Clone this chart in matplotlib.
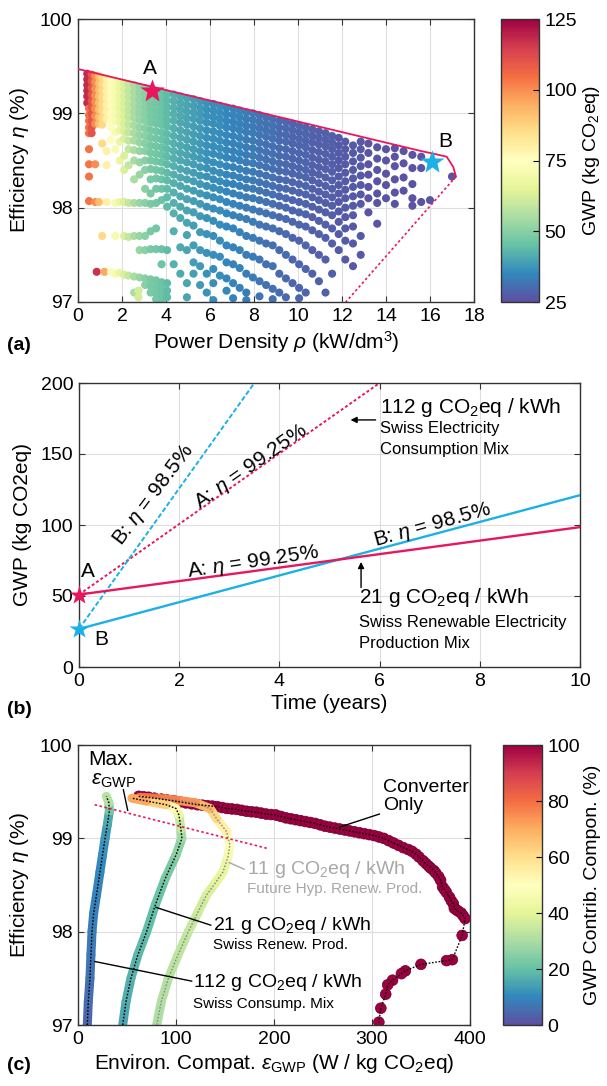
import numpy as np
import matplotlib
matplotlib.use('Agg')
import matplotlib.pyplot as plt
from matplotlib.collections import LineCollection
from matplotlib.colors import Normalize
from matplotlib.cm import ScalarMappable

# ---------------- data ----------------
# (a) design space: one column of designs per power density value
cloud_x = [0.42, 0.5, 0.62, 0.78, 0.85, 0.95, 1.1, 1.2, 1.3, 1.5, 1.7, 1.9, 2.1, 2.3, 2.55, 2.75,
           2.8, 3.05, 3.3, 3.55, 3.8, 4.05, 4.35, 4.65, 4.95, 5.25, 5.55, 5.85, 6.15, 6.45, 6.75,
           7.05, 7.35, 7.65, 7.95, 8.25, 8.55, 8.85, 9.15, 9.45, 9.75, 10.05, 10.35, 10.65, 10.95,
           11.25, 11.55, 11.85, 12.15, 12.5, 12.85, 13.2, 13.6, 14.0, 14.4, 14.8, 15.2, 15.6, 16.0, 17.0]
cloud_gwp = [118, 104, 110, 100, 117, 92, 86, 96, 80, 76, 71, 67, 63, 59, 55, 62,
             52, 50, 48, 47, 46, 44, 42, 41, 40, 39, 38, 37, 36, 36, 35,
             34, 34, 33, 33, 32, 31, 31, 30, 30, 29, 29, 29, 28, 28,
             28, 28, 27, 27, 27, 27, 26, 26, 26, 26, 26, 26, 26, 26, 26]
cloud_eta = [
    [99.42, 99.36, 99.30, 99.24, 99.18, 99.11],
    [99.05, 98.98, 98.92, 98.85, 98.79, 98.62, 98.46, 98.33, 98.07],
    [99.41, 99.34, 99.27, 99.20, 99.13, 99.06, 98.99, 98.92, 98.85, 98.79],
    [99.40, 99.33, 99.26, 99.19, 99.12, 99.05, 98.97, 98.89, 98.46, 98.06],
    [97.32],
    [99.39, 99.32, 99.25, 99.18, 99.11, 99.04, 98.96, 98.89, 98.06],
    [99.38, 99.31, 99.24, 99.17, 99.10, 99.03, 98.95, 98.88, 98.68, 97.70],
    [97.32],
    [99.37, 99.30, 99.23, 99.16, 99.09, 99.02, 98.94, 98.60, 98.45, 98.06],
    [99.36, 99.29, 99.22, 99.15, 99.08, 99.00, 98.92, 98.85, 98.72, 97.32],
    [99.34, 99.27, 99.20, 99.13, 99.06, 98.99, 98.92, 98.80, 98.62, 98.05, 97.70, 97.30],
    [99.33, 99.26, 99.19, 99.12, 99.05, 98.98, 98.90, 98.82, 98.70, 98.50, 98.06, 97.31],
    [99.32, 99.25, 99.18, 99.11, 99.04, 98.97, 98.89, 98.81, 98.73, 98.55, 98.40, 98.06, 97.70, 97.29],
    [99.31, 99.24, 99.17, 99.10, 99.03, 98.96, 98.88, 98.80, 98.71, 98.62, 98.45, 98.05, 97.69, 97.28],
    [99.30, 99.23, 99.16, 99.09, 99.02, 98.95, 98.87, 98.79, 98.71, 98.61, 98.50, 98.30, 98.05, 97.70, 97.27, 97.10],
    [97.05, 97.12],
    [99.28, 99.21, 99.14, 99.07, 99.00, 98.93, 98.85, 98.77, 98.69, 98.60, 98.48, 98.35, 98.05, 97.70, 97.55, 97.26],
    [99.27, 99.20, 99.13, 99.06, 98.99, 98.92, 98.84, 98.76, 98.68, 98.60, 98.50, 98.40, 98.20, 98.05, 97.70, 97.55, 97.25, 97.18],
    [99.25, 99.18, 99.11, 99.04, 98.97, 98.90, 98.82, 98.74, 98.66, 98.58, 98.50, 98.41, 98.30, 98.15, 98.04, 97.75, 97.56, 97.24, 97.17, 97.10],
    [99.24, 99.17, 99.10, 99.03, 98.96, 98.89, 98.81, 98.73, 98.65, 98.57, 98.49, 98.40, 98.31, 98.20, 98.05, 97.78, 97.56, 97.23, 97.16, 97.09, 97.03],
    [99.23, 99.16, 99.09, 99.02, 98.95, 98.88, 98.80, 98.72, 98.64, 98.56, 98.48, 98.39, 98.30, 98.20, 98.08, 97.56, 97.40, 97.21, 97.14, 97.07, 97.02],
    [99.21, 99.14, 99.07, 99.00, 98.93, 98.86, 98.78, 98.70, 98.62, 98.54, 98.46, 98.37, 98.29, 98.20, 98.11, 98.01, 97.55, 97.20, 97.12, 97.05],
    [99.20, 99.13, 99.06, 98.99, 98.92, 98.84, 98.76, 98.68, 98.60, 98.52, 98.44, 98.35, 98.26, 98.16, 98.05, 97.94, 97.75, 97.40],
    [99.18, 99.11, 99.04, 98.97, 98.90, 98.82, 98.74, 98.66, 98.58, 98.50, 98.41, 98.32, 98.23, 98.12, 98.01, 97.89, 97.58, 97.30],
    [99.16, 99.09, 99.02, 98.95, 98.88, 98.80, 98.72, 98.64, 98.56, 98.48, 98.39, 98.30, 98.20, 98.09, 97.97, 97.84, 97.71, 97.55, 97.20, 97.05],
    [99.15, 99.08, 99.01, 98.94, 98.86, 98.78, 98.70, 98.62, 98.54, 98.46, 98.37, 98.28, 98.18, 98.07, 97.95, 97.81, 97.60, 97.42, 97.30],
    [99.13, 99.06, 98.99, 98.92, 98.84, 98.76, 98.68, 98.60, 98.52, 98.43, 98.34, 98.25, 98.15, 98.04, 97.91, 97.74, 97.55, 97.38, 97.18],
    [99.11, 99.04, 98.97, 98.90, 98.82, 98.74, 98.66, 98.58, 98.50, 98.42, 98.33, 98.23, 98.13, 98.01, 97.89, 97.72, 97.52, 97.30, 97.10],
    [99.10, 99.03, 98.96, 98.89, 98.81, 98.73, 98.65, 98.57, 98.48, 98.39, 98.30, 98.21, 98.11, 97.99, 97.86, 97.70, 97.50, 97.35, 97.20, 97.02],
    [99.08, 99.01, 98.94, 98.87, 98.79, 98.71, 98.63, 98.55, 98.46, 98.37, 98.28, 98.19, 98.09, 97.97, 97.82, 97.65, 97.48, 97.28],
    [99.06, 98.99, 98.92, 98.85, 98.77, 98.69, 98.61, 98.53, 98.44, 98.35, 98.26, 98.17, 98.06, 97.94, 97.80, 97.60, 97.42, 97.25, 97.12],
    [99.05, 98.98, 98.91, 98.84, 98.76, 98.68, 98.60, 98.52, 98.43, 98.34, 98.25, 98.15, 98.04, 97.92, 97.78, 97.58, 97.40, 97.20, 97.04],
    [99.03, 98.96, 98.89, 98.82, 98.74, 98.66, 98.58, 98.50, 98.41, 98.32, 98.23, 98.13, 98.02, 97.90, 97.74, 97.55, 97.36, 97.15],
    [99.01, 98.94, 98.87, 98.80, 98.72, 98.64, 98.56, 98.48, 98.39, 98.30, 98.21, 98.11, 98.00, 97.88, 97.70, 97.50, 97.30, 97.10, 97.02],
    [99.00, 98.93, 98.86, 98.79, 98.71, 98.63, 98.55, 98.47, 98.38, 98.29, 98.20, 98.10, 97.98, 97.85, 97.68, 97.48, 97.26],
    [98.98, 98.91, 98.84, 98.77, 98.69, 98.61, 98.53, 98.45, 98.36, 98.27, 98.18, 98.08, 97.96, 97.82, 97.65, 97.45, 97.22, 97.06],
    [98.96, 98.89, 98.82, 98.75, 98.67, 98.59, 98.51, 98.43, 98.34, 98.25, 98.16, 98.06, 97.94, 97.80, 97.62, 97.40, 97.18],
    [98.94, 98.87, 98.80, 98.73, 98.65, 98.57, 98.49, 98.41, 98.32, 98.23, 98.14, 98.04, 97.92, 97.78, 97.60, 97.38, 97.14, 97.03],
    [98.92, 98.85, 98.78, 98.71, 98.63, 98.55, 98.47, 98.39, 98.30, 98.21, 98.12, 98.02, 97.90, 97.75, 97.55, 97.30, 97.10],
    [98.91, 98.84, 98.77, 98.70, 98.62, 98.54, 98.46, 98.38, 98.29, 98.20, 98.10, 98.00, 97.88, 97.72, 97.50, 97.25, 97.05],
    [98.89, 98.82, 98.75, 98.68, 98.60, 98.52, 98.44, 98.36, 98.27, 98.18, 98.08, 97.97, 97.85, 97.68, 97.45, 97.20],
    [98.87, 98.80, 98.73, 98.66, 98.58, 98.50, 98.42, 98.34, 98.25, 98.16, 98.06, 97.95, 97.82, 97.65, 97.40, 97.15, 97.04],
    [98.85, 98.78, 98.71, 98.64, 98.56, 98.48, 98.40, 98.32, 98.23, 98.14, 98.04, 97.93, 97.80, 97.60, 97.35, 97.10],
    [98.83, 98.76, 98.69, 98.61, 98.53, 98.45, 98.37, 98.29, 98.20, 98.11, 98.01, 97.90, 97.76, 97.55, 97.30],
    [98.81, 98.74, 98.67, 98.59, 98.51, 98.43, 98.35, 98.26, 98.17, 98.08, 97.98, 97.86, 97.72, 97.50, 97.22],
    [98.79, 98.72, 98.65, 98.57, 98.49, 98.41, 98.32, 98.23, 98.14, 98.05, 97.95, 97.82, 97.68, 97.45, 97.10],
    [98.76, 98.69, 98.62, 98.54, 98.46, 98.38, 98.29, 98.20, 98.11, 98.02, 97.92, 97.78, 97.62, 97.30],
    [98.74, 98.66, 98.58, 98.50, 98.42, 98.33, 98.24, 98.15, 98.06, 97.96, 97.85, 97.72, 97.55],
    [98.70, 98.62, 98.54, 98.46, 98.37, 98.28, 98.19, 98.10, 98.00, 97.90, 97.78, 97.65, 97.45],
    [98.66, 98.58, 98.49, 98.40, 98.31, 98.22, 98.12, 98.02, 97.92, 97.80, 97.62, 97.38],
    [98.70, 98.62, 98.53, 98.44, 98.34, 98.24, 98.14, 98.04, 97.70, 97.50],
    [98.68, 98.58, 98.46, 98.35, 98.22, 98.10, 97.95],
    [98.64, 98.52, 98.40, 98.28, 98.15, 98.05, 97.83],
    [98.62, 98.50, 98.36, 98.24, 98.10],
    [98.63, 98.54, 98.44, 98.30, 98.16, 98.04],
    [98.60, 98.47, 98.32, 98.18],
    [98.56, 98.42, 98.25, 98.10, 98.02],
    [98.54, 98.42, 98.06],
    [98.08],
    [98.33],
]
# pareto fronts
front_x = [0.0, 3.4, 8.8, 15.6, 16.2, 16.76, 17.06, 17.18]
front_eta = [99.47, 99.28, 98.98, 98.6, 98.57, 98.54, 98.43, 98.33]
front_dot_x = [17.18, 12.1]
front_dot_eta = [98.33, 96.98]
star_a = (3.35, 99.24)
star_b = (16.1, 98.48)

# (b) GWP over lifetime
years_21 = [0, 10]
gwp_a_21 = [51.0, 98.5]
gwp_b_21 = [26.8, 121.0]
years_a_112 = [0, 6.0]
gwp_a_112 = [51.0, 200.0]
years_b_112 = [0, 3.5]
gwp_b_112 = [26.8, 200.0]

# (c) environmental compatibility
c112_eps = [9.5, 10.5, 12.2, 13.2, 14.3, 16, 19, 22.4, 25, 27.6, 30, 32, 31.5, 29]
c112_eta = [97.0, 97.25, 97.5, 97.75, 98.0, 98.2, 98.4, 98.64, 98.82, 99.0, 99.15, 99.29, 99.38, 99.45]
c112_con = [4, 5, 6, 7, 8, 9, 9, 10, 11, 12, 14, 18, 26, 38]

c21_eps = [45.6, 49, 54, 61, 70, 79, 89, 100, 106, 105, 103, 100, 90, 70, 55]
c21_eta = [97.0, 97.25, 97.5, 97.75, 98.0, 98.29, 98.57, 98.82, 99.0, 99.1, 99.25, 99.32, 99.36, 99.4, 99.43]
c21_con = [15, 16, 17, 18, 19, 20, 22, 24, 27, 31, 38, 48, 58, 68, 74]

c11_eps = [80.3, 85, 92.2, 102, 112.6, 122, 131, 140, 148, 153, 155, 151.7, 141.5, 134.7, 120, 100, 80, 63]
c11_eta = [97.0, 97.25, 97.5, 97.75, 98.0, 98.2, 98.39, 98.52, 98.64, 98.8, 98.93, 99.07, 99.21, 99.32,
           99.38, 99.41, 99.43, 99.44]
c11_con = [30, 31, 32, 33, 34, 35, 37, 39, 41, 44, 48, 52, 58, 65, 72, 76, 78, 80]

conv_eps = [62, 67, 72, 78, 85, 91, 98, 104, 110, 116, 122, 127, 132, 137, 142, 147, 152, 157, 162, 167,
            172, 177, 182, 187, 192, 197, 202, 207, 212, 217, 222, 227, 232, 237, 242, 247, 252, 257,
            262, 267, 272, 277, 282, 287, 292, 297, 302, 307, 312, 317, 322, 327, 332, 337, 341, 345,
            348, 352, 355, 358, 360, 363, 365, 368, 370, 372, 374, 376, 379, 381, 383, 384, 386, 388,
            391, 393, 395, 392, 382, 376, 350, 334, 330, 321, 316, 314, 309, 307]
conv_eta = [99.45, 99.445, 99.44, 99.43, 99.42, 99.41, 99.40, 99.39, 99.38, 99.37, 99.36, 99.355, 99.35,
            99.345, 99.34, 99.33, 99.32, 99.315, 99.31, 99.30, 99.29, 99.285, 99.28, 99.27, 99.26, 99.255,
            99.25, 99.235, 99.22, 99.21, 99.20, 99.19, 99.18, 99.17, 99.16, 99.145, 99.13, 99.12, 99.11,
            99.10, 99.09, 99.08, 99.07, 99.06, 99.05, 99.04, 99.03, 99.015, 99.00, 98.975, 98.95, 98.925,
            98.90, 98.88, 98.86, 98.83, 98.80, 98.76, 98.73, 98.70, 98.68, 98.655, 98.63, 98.59, 98.55,
            98.48, 98.45, 98.42, 98.37, 98.33, 98.30, 98.25, 98.235, 98.22, 98.20, 98.17, 98.14, 97.96,
            97.70, 97.69, 97.65, 97.58, 97.55, 97.48, 97.43, 97.33, 97.18, 97.03]

max_eps = [17, 194]
max_eta = [99.36, 98.89]

# ---------------- style ----------------
plt.rcParams['font.family'] = ['Liberation Sans', 'DejaVu Sans']
plt.rcParams['mathtext.fontset'] = 'custom'
plt.rcParams['mathtext.rm'] = 'Liberation Sans'
plt.rcParams['mathtext.it'] = 'Liberation Sans:italic'
plt.rcParams['mathtext.bf'] = 'Liberation Sans:bold'
plt.rcParams['font.size'] = 14
plt.rcParams['xtick.direction'] = 'in'
plt.rcParams['ytick.direction'] = 'in'
plt.rcParams['xtick.top'] = True
plt.rcParams['ytick.right'] = True
plt.rcParams['xtick.major.size'] = 4
plt.rcParams['ytick.major.size'] = 4
plt.rcParams['xtick.major.pad'] = 4
plt.rcParams['ytick.major.pad'] = 4
plt.rcParams['axes.linewidth'] = 1.0
plt.rcParams['axes.edgecolor'] = '#333333'

PINK = '#e8175d'
CYAN = '#1cb0e6'
GRID = '#dedede'
cmap = plt.get_cmap('Spectral_r')

fig = plt.figure(figsize=(6.07, 10.86), dpi=100)
W, H = 607, 1086


def px_axes(l, t, r, b):
    return fig.add_axes([l / W, 1 - b / H, (r - l) / W, (b - t) / H])


def style(ax):
    ax.grid(True, color=GRID, lw=0.8)
    ax.set_axisbelow(True)
    ax.tick_params(labelsize=14, width=0.8, color='#333333')


# ---------------- (a) ----------------
ax_a = px_axes(78, 19, 474, 302)
style(ax_a)
norm_a = Normalize(25, 125)
xs, ys, gs = [], [], []
for x, g, col in zip(cloud_x, cloud_gwp, cloud_eta):
    for e in col:
        xs.append(x)
        ys.append(e)
        gs.append(g)
sc = ax_a.scatter(xs, ys, c=gs, cmap=cmap, norm=norm_a, s=34, edgecolors='none', zorder=2)
ax_a.plot(front_x, front_eta, color=PINK, lw=1.3, zorder=3)
ax_a.plot(front_dot_x, front_dot_eta, color=PINK, lw=1.2, ls=(0, (1.5, 1.5)), zorder=3)
ax_a.plot(*star_a, marker='*', ms=18, color=PINK, mec='none', zorder=4)
ax_a.plot(*star_b, marker='*', ms=18, color=CYAN, mec='none', zorder=4)
ax_a.text(3.27, 99.48, 'A', fontsize=15, ha='center', va='center')
ax_a.text(16.7, 98.7, 'B', fontsize=15, ha='center', va='center')
ax_a.set_xlim(0, 18)
ax_a.set_ylim(97, 100)
ax_a.set_xticks(range(0, 19, 2))
ax_a.set_yticks([97, 98, 99, 100])
ax_a.set_xlabel(r'Power Density $\rho$ (kW/dm$^3$)', fontsize=15, labelpad=3)
ax_a.set_ylabel(r'Efficiency $\eta$ (%)', fontsize=15, labelpad=6)

cax_a = px_axes(501, 19, 539, 302)
cb_a = fig.colorbar(sc, cax=cax_a)
cb_a.set_ticks([25, 50, 75, 100, 125])
cb_a.ax.tick_params(labelsize=14, direction='in', width=0.8, length=4)
cb_a.outline.set_linewidth(1.0)
cb_a.set_label(r'GWP (kg CO$_2$eq)', fontsize=14, labelpad=3)

# ---------------- (b) ----------------
ax_b = px_axes(79, 383, 580, 667)
style(ax_b)
ax_b.plot(years_a_112, gwp_a_112, color=PINK, lw=1.4, ls=(0, (1.5, 1.2)), zorder=2)
ax_b.plot(years_b_112, gwp_b_112, color=CYAN, lw=1.4, ls=(0, (2.5, 1.2)), zorder=2)
ax_b.plot(years_21, gwp_b_21, color=CYAN, lw=1.7, zorder=3)
ax_b.plot(years_21, gwp_a_21, color=PINK, lw=1.7, zorder=3)
ax_b.plot(0, gwp_a_21[0], marker='*', ms=15, color=PINK, mec='none', clip_on=False, zorder=5)
ax_b.plot(0, gwp_b_21[0], marker='*', ms=15, color=CYAN, mec='none', clip_on=False, zorder=5)
ax_b.text(0.17, 67, 'A', fontsize=15, ha='center', va='center')
ax_b.text(0.45, 19.5, 'B', fontsize=15, ha='center', va='center')
ax_b.text(1.5, 121, r'B: $\eta$ = 98.5%', fontsize=15, rotation=53, ha='center', va='center')
ax_b.text(3.44, 141, r'A: $\eta$ = 99.25%', fontsize=15, rotation=35, ha='center', va='center')
ax_b.text(3.48, 74, r'A: $\eta$ = 99.25%', fontsize=15, rotation=8.5, ha='center', va='center')
ax_b.text(7.05, 100, r'B: $\eta$ = 98.5%', fontsize=15, rotation=15.5, ha='center', va='center')
ax_b.text(6.0, 183, r'112 g CO$_2$eq / kWh', fontsize=15, ha='left', va='center')
ax_b.text(6.0, 168, 'Swiss Electricity', fontsize=12, ha='left', va='center')
ax_b.text(6.0, 153, 'Consumption Mix', fontsize=12, ha='left', va='center')
ax_b.text(5.58, 48.6, r'21 g CO$_2$eq / kWh', fontsize=15, ha='left', va='center')
ax_b.text(5.58, 31, 'Swiss Renewable Electricity', fontsize=12, ha='left', va='center')
ax_b.text(5.58, 16.8, 'Production Mix', fontsize=12, ha='left', va='center')
arrow = dict(arrowstyle='-|>', color='k', lw=1, mutation_scale=9, shrinkA=0, shrinkB=0)
ax_b.annotate('', xy=(5.42, 174), xytext=(5.92, 174), arrowprops=arrow)
ax_b.annotate('', xy=(5.63, 74), xytext=(5.63, 56), arrowprops=arrow)
ax_b.set_xlim(0, 10)
ax_b.set_ylim(0, 200)
ax_b.set_xticks(range(0, 11, 2))
ax_b.set_yticks(range(0, 201, 50))
ax_b.set_xlabel('Time (years)', fontsize=15, labelpad=3)
ax_b.set_ylabel('GWP (kg CO2eq)', fontsize=15, labelpad=6)

# ---------------- (c) ----------------
ax_c = px_axes(78, 745, 470, 1025)
style(ax_c)
norm_c = Normalize(0, 100)


def band(eps, eta, con, dot_color):
    pts = np.column_stack([eps, eta])
    segs = np.stack([pts[:-1], pts[1:]], axis=1)
    mid = [(con[i] + con[i + 1]) / 2 for i in range(len(con) - 1)]
    lc = LineCollection(segs, colors=cmap(norm_c(mid)), linewidths=6.5, capstyle='round',
                        joinstyle='round', zorder=2)
    ax_c.add_collection(lc)
    ax_c.plot(eps, eta, color=dot_color, lw=1.0, ls=(0, (1.2, 1.2)), zorder=4)


# converter-only dots sit under the coloured bands
ax_c.scatter(conv_eps, conv_eta, c=[100] * len(conv_eps), cmap=cmap, norm=norm_c, s=60,
             edgecolors='#6e0030', linewidths=0.5, zorder=1.8)
band(c11_eps, c11_eta, c11_con, '#8a8a8a')
band(c21_eps, c21_eta, c21_con, 'k')
band(c112_eps, c112_eta, c112_con, 'k')
ax_c.plot(conv_eps, conv_eta, color='k', lw=1.0, ls=(0, (1.2, 1.2)), zorder=4)
ax_c.plot(max_eps, max_eta, color=PINK, lw=1.2, ls=(0, (1.5, 1.5)), zorder=5)

ax_c.text(10.5, 99.84, 'Max.', fontsize=15, ha='left', va='center')
ax_c.text(13, 99.62, r'$\varepsilon_{\mathrm{GWP}}$', fontsize=15, ha='left', va='center')
ax_c.plot([46.3, 50.7], [99.52, 99.30], color='k', lw=1.0, zorder=6)
ax_c.text(311, 99.55, 'Converter', fontsize=14, ha='left', va='center')
ax_c.text(311, 99.35, 'Only', fontsize=14, ha='left', va='center')
ax_c.plot([307.5, 266.8], [99.26, 99.12], color='k', lw=1.0, zorder=6)
ax_c.text(172, 98.67, r'11 g CO$_2$eq / kWh', fontsize=14, color='#a8a8a8', ha='left', va='center')
ax_c.text(172, 98.46, 'Future Hyp. Renew. Prod.', fontsize=11, color='#a8a8a8', ha='left', va='center')
ax_c.plot([154.4, 169.4], [98.74, 98.67], color='#a8a8a8', lw=1.0, zorder=6)
ax_c.text(138, 98.07, r'21 g CO$_2$eq / kWh', fontsize=14, ha='left', va='center')
ax_c.text(138, 97.86, 'Swiss Renew. Prod.', fontsize=11, ha='left', va='center')
ax_c.plot([135.4, 79.6], [98.07, 98.26], color='k', lw=1.0, zorder=6)
ax_c.text(117.7, 97.46, r'112 g CO$_2$eq / kWh', fontsize=14, ha='left', va='center')
ax_c.text(117.7, 97.23, 'Swiss Consump. Mix', fontsize=11, ha='left', va='center')
ax_c.plot([116, 17.3], [97.47, 97.68], color='k', lw=1.0, zorder=6)

ax_c.set_xlim(0, 400)
ax_c.set_ylim(97, 100)
ax_c.set_xticks(range(0, 401, 100))
ax_c.set_yticks([97, 98, 99, 100])
ax_c.set_xlabel(r'Environ. Compat. $\varepsilon_{\mathrm{GWP}}$ (W / kg CO$_2$eq)', fontsize=15, labelpad=3)
ax_c.set_ylabel(r'Efficiency $\eta$ (%)', fontsize=15, labelpad=6)

cax_c = px_axes(503, 745, 542, 1025)
cb_c = fig.colorbar(ScalarMappable(norm=norm_c, cmap=cmap), cax=cax_c)
cb_c.set_ticks([0, 20, 40, 60, 80, 100])
cb_c.ax.tick_params(labelsize=14, direction='in', width=0.8, length=4)
cb_c.outline.set_linewidth(1.0)
cb_c.set_label('GWP Contrib. Compon. (%)', fontsize=14, labelpad=3)

# panel tags
fig.text(7 / W, 1 - 345 / H, '(a)', fontsize=14, fontweight='bold', ha='left', va='center')
fig.text(7 / W, 1 - 710 / H, '(b)', fontsize=14, fontweight='bold', ha='left', va='center')
fig.text(7 / W, 1 - 1065 / H, '(c)', fontsize=14, fontweight='bold', ha='left', va='center')

fig.savefig('out.png', dpi=100)
